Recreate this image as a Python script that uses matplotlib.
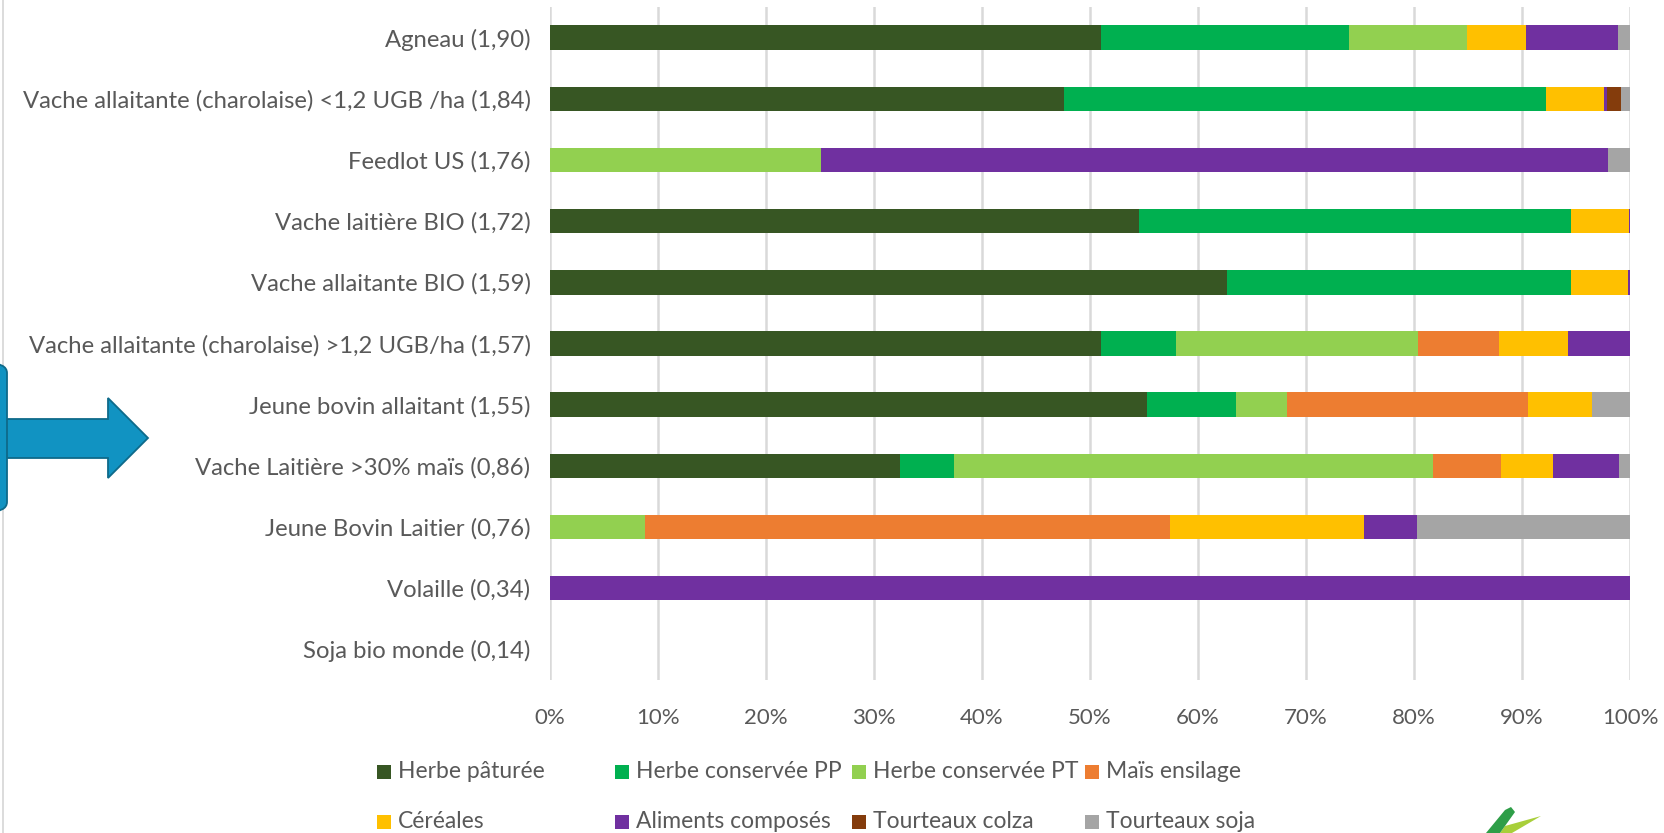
import matplotlib
matplotlib.use('Agg')
import matplotlib.pyplot as plt
import numpy as np
from matplotlib.patches import Rectangle, Polygon, FancyBboxPatch
from matplotlib.lines import Line2D

# Rations (share of each feed, %) per production, top to bottom
categories = [
    'Agneau (1,90)',
    'Vache allaitante (charolaise) <1,2 UGB /ha (1,84)',
    'Feedlot US (1,76)',
    'Vache laitière BIO (1,72)',
    'Vache allaitante BIO (1,59)',
    'Vache allaitante (charolaise) >1,2 UGB/ha (1,57)',
    'Jeune bovin allaitant (1,55)',
    'Vache Laitière >30% maïs (0,86)',
    'Jeune Bovin Laitier (0,76)',
    'Volaille (0,34)',
    'Soja bio monde (0,14)',
]

herbe_paturee = [51.0, 47.6, 0.0, 54.5, 62.7, 51.0, 55.3, 32.45, 0.0, 0.0, 0.0]
herbe_pp = [22.95, 44.6, 0.0, 40.0, 31.8, 7.0, 8.2, 4.95, 0.0, 0.0, 0.0]
herbe_pt = [11.0, 0.0, 25.1, 0.0, 0.0, 22.4, 4.7, 44.4, 8.8, 0.0, 0.0]
mais_ensilage = [0.0, 0.0, 0.0, 0.0, 0.0, 7.5, 22.4, 6.3, 48.6, 0.0, 0.0]
cereales = [5.4, 5.35, 0.0, 5.4, 5.35, 6.4, 5.9, 4.75, 18.0, 0.0, 0.0]
aliments = [8.5, 0.3, 72.9, 0.1, 0.15, 5.7, 0.0, 6.15, 4.9, 100.0, 0.0]
tourteaux_colza = [0.0, 1.35, 0.0, 0.0, 0.0, 0.0, 0.0, 0.0, 0.0, 0.0, 0.0]
tourteaux_soja = [1.15, 0.8, 2.0, 0.0, 0.0, 0.0, 3.5, 1.0, 19.7, 0.0, 0.0]

series_names = ['Herbe pâturée', 'Herbe conservée PP', 'Herbe conservée PT', 'Maïs ensilage',
                'Céréales', 'Aliments composés', 'Tourteaux colza', 'Tourteaux soja']
series_values = [herbe_paturee, herbe_pp, herbe_pt, mais_ensilage,
                 cereales, aliments, tourteaux_colza, tourteaux_soja]
series_colors = ['#375623', '#00B050', '#92D050', '#ED7D31',
                 '#FFC000', '#7030A0', '#843C0C', '#A5A5A5']

W, H = 1665, 833
FONT = 'Lato'
GREY = '#595959'


def px(x, y):
    # pixel position (origin top-left) -> figure fraction
    return x / W, 1 - y / H


fig = plt.figure(figsize=(W / 100, H / 100), dpi=100)
fig.patch.set_facecolor('white')

ax = fig.add_axes([550 / W, 1 - 680 / H, 1080 / W, 673 / H])

y = np.arange(len(categories))
left = np.zeros(len(categories))
for name, vals, col in zip(series_names, series_values, series_colors):
    vals = np.array(vals)
    ax.barh(y, vals, left=left, height=0.4, color=col, label=name, zorder=3)
    left += vals

ax.set_xlim(0, 100)
ax.set_ylim(len(categories) - 0.5, -0.5)
ax.set_xticks(np.arange(0, 101, 10))
ax.set_xticklabels([f'{v}%' for v in range(0, 101, 10)], fontsize=16, color=GREY, family=FONT)
ax.set_yticks(y)
ax.set_yticklabels(categories, fontsize=17.2, color=GREY, family=FONT)
ax.tick_params(axis='both', length=0)
ax.tick_params(axis='x', pad=20)
ax.tick_params(axis='y', pad=14)
ax.grid(axis='x', color='#D9D9D9', linewidth=1.8, zorder=0)
for s in ax.spines.values():
    s.set_visible(False)

# legend drawn as a fixed 4-column grid
col_x = [377, 615, 852, 1085]
row_y = [772, 822]
for i, (name, col) in enumerate(zip(series_names, series_colors)):
    cx = col_x[i % 4]
    cy = row_y[i // 4]
    x0, y0 = px(cx, cy + 7)
    fig.add_artist(Rectangle((x0, y0), 14 / W, 14 / H, transform=fig.transFigure,
                             facecolor=col, edgecolor='none'))
    tx, ty = px(cx + 21, cy)
    fig.text(tx, ty, name, fontsize=16.5, color=GREY, family=FONT, va='center', ha='left')

# thin frame line at the left edge
fig.add_artist(Line2D([3 / W, 3 / W], [0, 1], transform=fig.transFigure, color='#D6D6D6', lw=1.2))

# blue arrow pointing to the chart
arrow_pts = [(0, 419), (108, 419), (108, 398), (148, 438), (108, 478), (108, 458), (0, 458)]
fig.add_artist(Polygon([px(a, b) for a, b in arrow_pts], closed=True, transform=fig.transFigure,
                       facecolor='#1193C2', edgecolor='#0E6A8A', lw=1.3, zorder=5))
bx, by = px(-30, 512)
fig.add_artist(FancyBboxPatch((bx, by), 37 / W, 149 / H, boxstyle='round,pad=0,rounding_size=0.012',
                              transform=fig.transFigure, facecolor='#1193C2', edgecolor='#0E6A8A',
                              lw=1.3, zorder=6))

# logo leaves at bottom right
leaf_dark = [(1486, 833), (1505, 810), (1511, 807), (1515, 812), (1500, 833)]
leaf_light = [(1500, 833), (1505, 826), (1541, 816), (1512, 833)]
fig.add_artist(Polygon([px(a, b) for a, b in leaf_light], closed=True, transform=fig.transFigure,
                       facecolor='#A8CF3A', edgecolor='none'))
fig.add_artist(Polygon([px(a, b) for a, b in leaf_dark], closed=True, transform=fig.transFigure,
                       facecolor='#2E9E48', edgecolor='none'))

fig.savefig('out.png', dpi=100, facecolor='white')
plt.close(fig)
